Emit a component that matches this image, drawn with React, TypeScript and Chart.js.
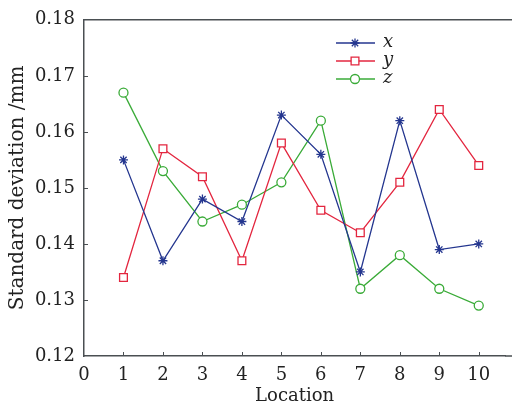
import React, { useEffect, useRef } from "react";
import { Chart, registerables } from "chart.js";
import { drawPoint } from "chart.js/helpers";

Chart.register(...registerables);

const locations = [1, 2, 3, 4, 5, 6, 7, 8, 9, 10];
const seriesX = [0.155, 0.137, 0.148, 0.144, 0.163, 0.156, 0.135, 0.162, 0.139, 0.14];
const seriesY = [0.134, 0.157, 0.152, 0.137, 0.158, 0.146, 0.142, 0.151, 0.164, 0.154];
const seriesZ = [0.167, 0.153, 0.144, 0.147, 0.151, 0.162, 0.132, 0.138, 0.132, 0.129];
const seriesNames = ["x", "y", "z"];
const xTickValues = [0, 1, 2, 3, 4, 5, 6, 7, 8, 9, 10];
const yTickValues = [0.12, 0.13, 0.14, 0.15, 0.16, 0.17, 0.18];

const BLUE = "#24368f";
const RED = "#e3263f";
const GREEN = "#3aab38";
const AXIS = "#4a4f52";
const FONT = "'DejaVu Serif', serif";

const framePlugin = {
  id: "frame",
  afterDraw(chart: any) {
    const { ctx, chartArea, scales } = chart;
    const xs = scales.x;
    const ys = scales.y;
    ctx.save();
    ctx.strokeStyle = AXIS;
    ctx.lineWidth = 1.5;
    ctx.beginPath();
    ctx.moveTo(chartArea.left, chartArea.top);
    ctx.lineTo(chart.width, chartArea.top);
    ctx.moveTo(chartArea.right, chartArea.bottom);
    ctx.lineTo(chart.width, chartArea.bottom);
    ctx.stroke();
    ctx.lineWidth = 1;
    ctx.beginPath();
    xTickValues.forEach((v) => {
      if (v === 0) return;
      const px = Math.round(xs.getPixelForValue(v)) + 0.5;
      ctx.moveTo(px, chartArea.bottom);
      ctx.lineTo(px, chartArea.bottom - 4);
    });
    yTickValues.forEach((v) => {
      if (v <= 0.12 || v >= 0.18) return;
      const py = Math.round(ys.getPixelForValue(v)) + 0.5;
      ctx.moveTo(chartArea.left, py);
      ctx.lineTo(chartArea.left + 4, py);
    });
    ctx.stroke();

    // legend
    const baseY = 43;
    chart.data.datasets.forEach((ds: any, i: number) => {
      const y = baseY + i * 18;
      ctx.strokeStyle = ds.borderColor;
      ctx.lineWidth = 1.3;
      ctx.beginPath();
      ctx.moveTo(336, y);
      ctx.lineTo(375, y);
      ctx.stroke();
      ctx.fillStyle = "#ffffff";
      drawPoint(ctx, { pointStyle: ds.pointStyle, radius: ds.pointRadius, borderWidth: 1.3, rotation: 0 }, 355, y);
      ctx.fillStyle = "#222";
      ctx.font = "italic 18px " + FONT;
      ctx.textBaseline = "middle";
      ctx.textAlign = "left";
      ctx.fillText(seriesNames[i], 383, y - 1);
    });
    ctx.restore();
  },
};

export default function App() {
  const ref = useRef<HTMLCanvasElement>(null);
  useEffect(() => {
    document.body.style.margin = "0";
    const mk = (vals: number[]) => locations.map((l, i) => ({ x: l, y: vals[i] }));
    const chart = new Chart(ref.current!, {
      type: "line",
      data: {
        datasets: [
          { label: "x", data: mk(seriesX), borderColor: BLUE, backgroundColor: BLUE, pointStyle: "star", pointRadius: 4.5, pointBorderWidth: 1.3, borderWidth: 1.3 },
          { label: "y", data: mk(seriesY), borderColor: RED, backgroundColor: "#ffffff", pointStyle: "rect", pointRadius: 5.5, pointBorderWidth: 1.3, borderWidth: 1.3 },
          { label: "z", data: mk(seriesZ), borderColor: GREEN, backgroundColor: "#ffffff", pointStyle: "circle", pointRadius: 4.5, pointBorderWidth: 1.3, borderWidth: 1.3 },
        ] as any,
      },
      options: {
        animation: false,
        responsive: false,
        layout: { padding: { top: 17, right: 0, left: 0, bottom: 0 } },
        plugins: { legend: { display: false }, tooltip: { enabled: false } },
        scales: {
          x: {
            type: "linear",
            min: 0,
            max: 10.67,
            afterBuildTicks: (s: any) => { s.ticks = xTickValues.map((v) => ({ value: v })); },
            afterFit: (s: any) => { s.height = 51; },
            grid: { display: false, drawTicks: false },
            border: { display: true, color: AXIS, width: 1.5 },
            ticks: { color: "#222", font: { family: FONT, size: 18 }, padding: 9, maxRotation: 0, autoSkip: false },
            title: { display: true, text: "Location", color: "#222", font: { family: FONT, size: 18 }, padding: { top: 0, bottom: 0 } },
          },
          y: {
            type: "linear",
            min: 0.12,
            max: 0.18,
            afterBuildTicks: (s: any) => { s.ticks = yTickValues.map((v) => ({ value: v })); },
            afterFit: (s: any) => { s.width = 84; },
            grid: { display: false, drawTicks: false },
            border: { display: true, color: AXIS, width: 1.5 },
            ticks: { color: "#222", font: { family: FONT, size: 18 }, padding: 9, callback: (v: any) => Number(v).toFixed(2) },
            title: { display: true, text: "Standard deviation /mm", color: "#222", font: { family: FONT, size: 20 }, padding: { top: 6, bottom: 0 } },
          },
        },
      } as any,
      plugins: [framePlugin],
    });
    return () => chart.destroy();
  }, []);
  return <canvas ref={ref} width={512} height={407} style={{ display: "block" }} />;
}
